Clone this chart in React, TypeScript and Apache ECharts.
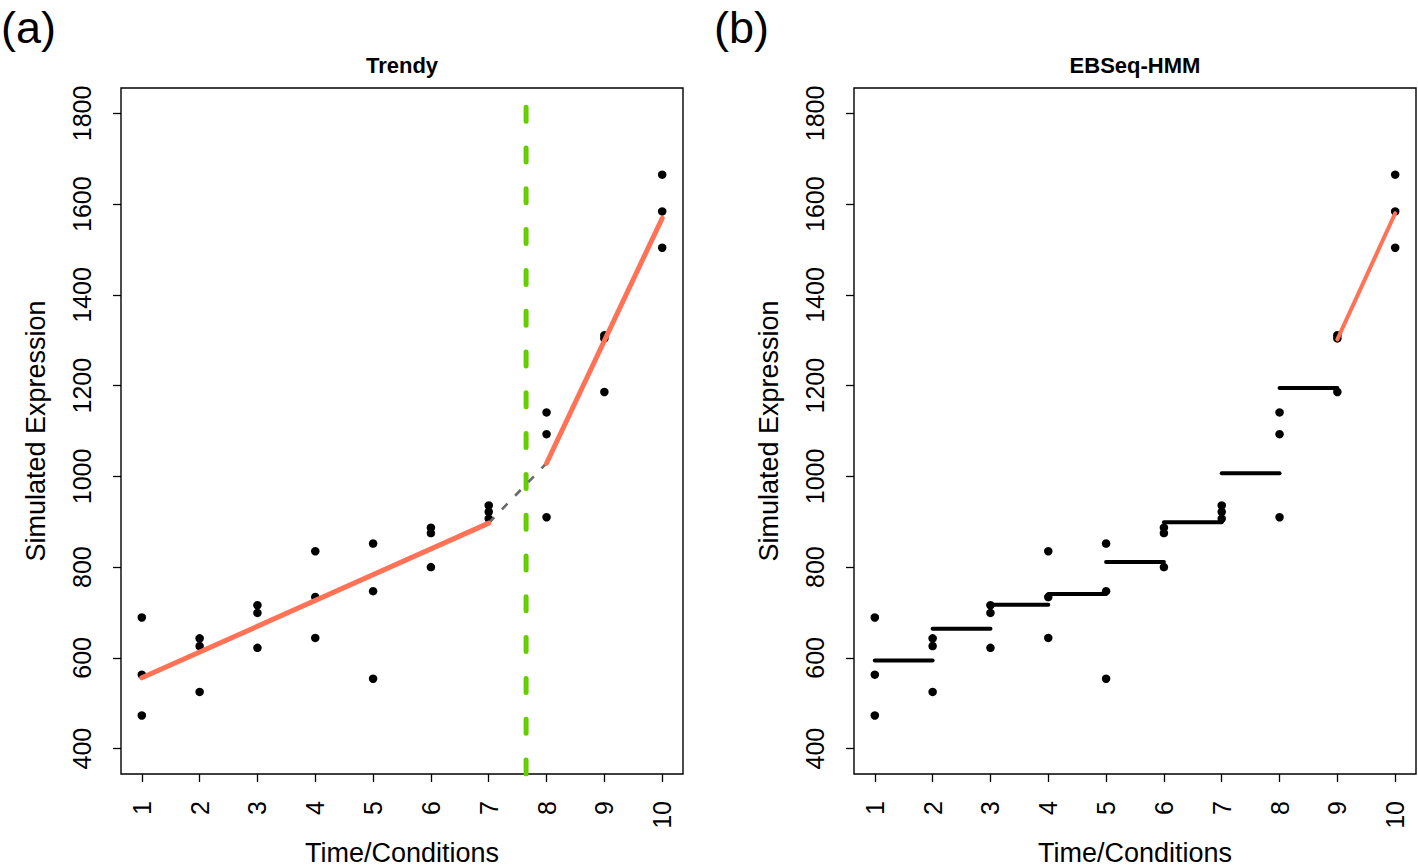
import React, { useEffect, useRef } from "react";
import * as echarts from "echarts";

// ---- data ----
const timePoints = [1, 2, 3, 4, 5, 6, 7, 8, 9, 10];
const replicateA = [689, 643, 716, 835, 852, 887, 936, 1141, 1311, 1665];
const replicateB = [563, 626, 699, 734, 747, 875, 922, 1093, 1304, 1584];
const replicateC = [473, 525, 622, 644, 554, 800, 907, 910, 1186, 1504];
const yTicks = [400, 600, 800, 1000, 1200, 1400, 1600, 1800];
const xRange = [0.64, 10.36];
const yRange = [344, 1856];

// Trendy fit (segmented regression)
const trendyEarlyX = [1, 7];
const trendyEarlyY = [556, 897];
const trendyLateX = [8, 10];
const trendyLateY = [1029, 1569];
const trendyBreakpoint = 7.646;

// EBSeq-HMM step levels for intervals [t, t+1]
const ebseqStepLevels = [594, 664, 717, 741, 811, 899, 1007, 1195];
const ebseqLastX = [9, 10];
const ebseqLastY = [1302, 1580];

const panelTitles = ["Trendy", "EBSeq-HMM"];
const panelLetters = ["(a)", "(b)"];
const xAxisTitle = "Time/Conditions";
const yAxisTitle = "Simulated Expression";

const FONT = "Liberation Sans, Arial, Helvetica, sans-serif";
const CORAL = "#FF7256";
const GREEN = "#66CD00";

const GRID_LEFTS = [121, 854];
const GRID_TOP = 88;
const GRID_W = 562;
const GRID_H = 686;

function zip(xs: number[], ys: number[]) {
  return xs.map((x, i) => [x, ys[i]]);
}

function allPoints() {
  const pts: number[][] = [];
  timePoints.forEach((t, i) => {
    pts.push([t, replicateA[i]]);
    pts.push([t, replicateB[i]]);
    pts.push([t, replicateC[i]]);
  });
  return pts;
}

function buildOption() {
  const grids = GRID_LEFTS.map((left) => ({
    left,
    top: GRID_TOP,
    width: GRID_W,
    height: GRID_H,
    show: true,
    borderColor: "#000",
    borderWidth: 1.4,
    backgroundColor: "transparent",
  }));

  const xAxes = [0, 1].map((gi) => ({
    type: "value",
    gridIndex: gi,
    min: xRange[0],
    max: xRange[1],
    axisLine: { show: false },
    splitLine: { show: false },
    axisTick: {
      show: true,
      inside: false,
      length: 8,
      customValues: timePoints,
      lineStyle: { color: "#000", width: 1.3 },
    },
    axisLabel: {
      show: true,
      customValues: timePoints,
      formatter: (v: number) => String(v),
      rotate: 90,
      margin: 27,
      fontSize: 25,
      color: "#000",
      fontFamily: FONT,
    },
  }));

  const yAxes = [0, 1].map((gi) => ({
    type: "value",
    gridIndex: gi,
    min: yRange[0],
    max: yRange[1],
    axisLine: { show: false },
    splitLine: { show: false },
    axisTick: {
      show: true,
      inside: false,
      length: 8,
      customValues: yTicks,
      lineStyle: { color: "#000", width: 1.3 },
    },
    axisLabel: {
      show: true,
      customValues: yTicks,
      formatter: (v: number) => String(v),
      rotate: 90,
      margin: 27,
      fontSize: 25,
      color: "#000",
      fontFamily: FONT,
    },
  }));

  const lineBase = {
    type: "line",
    symbol: "none",
    showSymbol: false,
    silent: true,
    animation: false,
  };

  const series: any[] = [];
  [0, 1].forEach((gi) => {
    series.push({
      type: "scatter",
      xAxisIndex: gi,
      yAxisIndex: gi,
      data: allPoints(),
      symbol: "circle",
      symbolSize: 8.5,
      itemStyle: { color: "#000", opacity: 1 },
      silent: true,
      z: 2,
    });
  });

  // Panel (a)
  series.push({
    ...lineBase,
    xAxisIndex: 0,
    yAxisIndex: 0,
    data: [
      [trendyBreakpoint, yRange[0]],
      [trendyBreakpoint, yRange[1]],
    ],
    lineStyle: { color: GREEN, width: 5, type: [14, 26.8], cap: "round", dashOffset: 0 },
    z: 3,
  });
  series.push({
    ...lineBase,
    xAxisIndex: 0,
    yAxisIndex: 0,
    data: [
      [trendyEarlyX[1], trendyEarlyY[1]],
      [trendyLateX[0], trendyLateY[0]],
    ],
    lineStyle: { color: "#6A6A6A", width: 2.6, type: [8, 11] },
    z: 4,
  });
  series.push({
    ...lineBase,
    xAxisIndex: 0,
    yAxisIndex: 0,
    data: zip(trendyEarlyX, trendyEarlyY),
    lineStyle: { color: CORAL, width: 5, cap: "round" },
    z: 5,
  });
  series.push({
    ...lineBase,
    xAxisIndex: 0,
    yAxisIndex: 0,
    data: zip(trendyLateX, trendyLateY),
    lineStyle: { color: CORAL, width: 5, cap: "round" },
    z: 5,
  });

  // Panel (b)
  ebseqStepLevels.forEach((lvl, i) => {
    series.push({
      ...lineBase,
      xAxisIndex: 1,
      yAxisIndex: 1,
      data: [
        [timePoints[i], lvl],
        [timePoints[i + 1], lvl],
      ],
      lineStyle: { color: "#000", width: 4, cap: "round" },
      z: 5,
    });
  });
  series.push({
    ...lineBase,
    xAxisIndex: 1,
    yAxisIndex: 1,
    data: zip(ebseqLastX, ebseqLastY),
    lineStyle: { color: CORAL, width: 4, cap: "round" },
    z: 5,
  });

  const graphics: any[] = [];
  GRID_LEFTS.forEach((left, i) => {
    const cx = left + GRID_W / 2;
    graphics.push({
      type: "text",
      x: i === 0 ? 1 : 714,
      y: 27,
      style: {
        text: panelLetters[i],
        font: `45px ${FONT}`,
        fill: "#000",
        verticalAlign: "middle",
        align: "left",
      },
    });
    graphics.push({
      type: "text",
      x: cx,
      y: 65,
      style: {
        text: panelTitles[i],
        font: `bold 22px ${FONT}`,
        fill: "#000",
        align: "center",
        verticalAlign: "middle",
      },
    });
    graphics.push({
      type: "text",
      x: cx,
      y: 853,
      style: {
        text: xAxisTitle,
        font: `27px ${FONT}`,
        fill: "#000",
        align: "center",
        verticalAlign: "middle",
      },
    });
    graphics.push({
      type: "text",
      x: left - 85.5,
      y: GRID_TOP + GRID_H / 2,
      rotation: Math.PI / 2,
      style: {
        text: yAxisTitle,
        font: `27px ${FONT}`,
        fill: "#000",
        align: "center",
        verticalAlign: "middle",
      },
    });
  });

  return {
    animation: false,
    backgroundColor: "#fff",
    grid: grids,
    xAxis: xAxes,
    yAxis: yAxes,
    series,
    graphic: graphics,
  };
}

export default function App() {
  const ref = useRef<HTMLDivElement>(null);
  useEffect(() => {
    if (!ref.current) return;
    const chart = echarts.init(ref.current, undefined, { renderer: "svg" });
    chart.setOption(buildOption() as any);
    return () => chart.dispose();
  }, []);
  return (
    <div
      ref={ref}
      style={{ position: "absolute", left: 0, top: 0, width: 1418, height: 868, background: "#fff" }}
    />
  );
}
